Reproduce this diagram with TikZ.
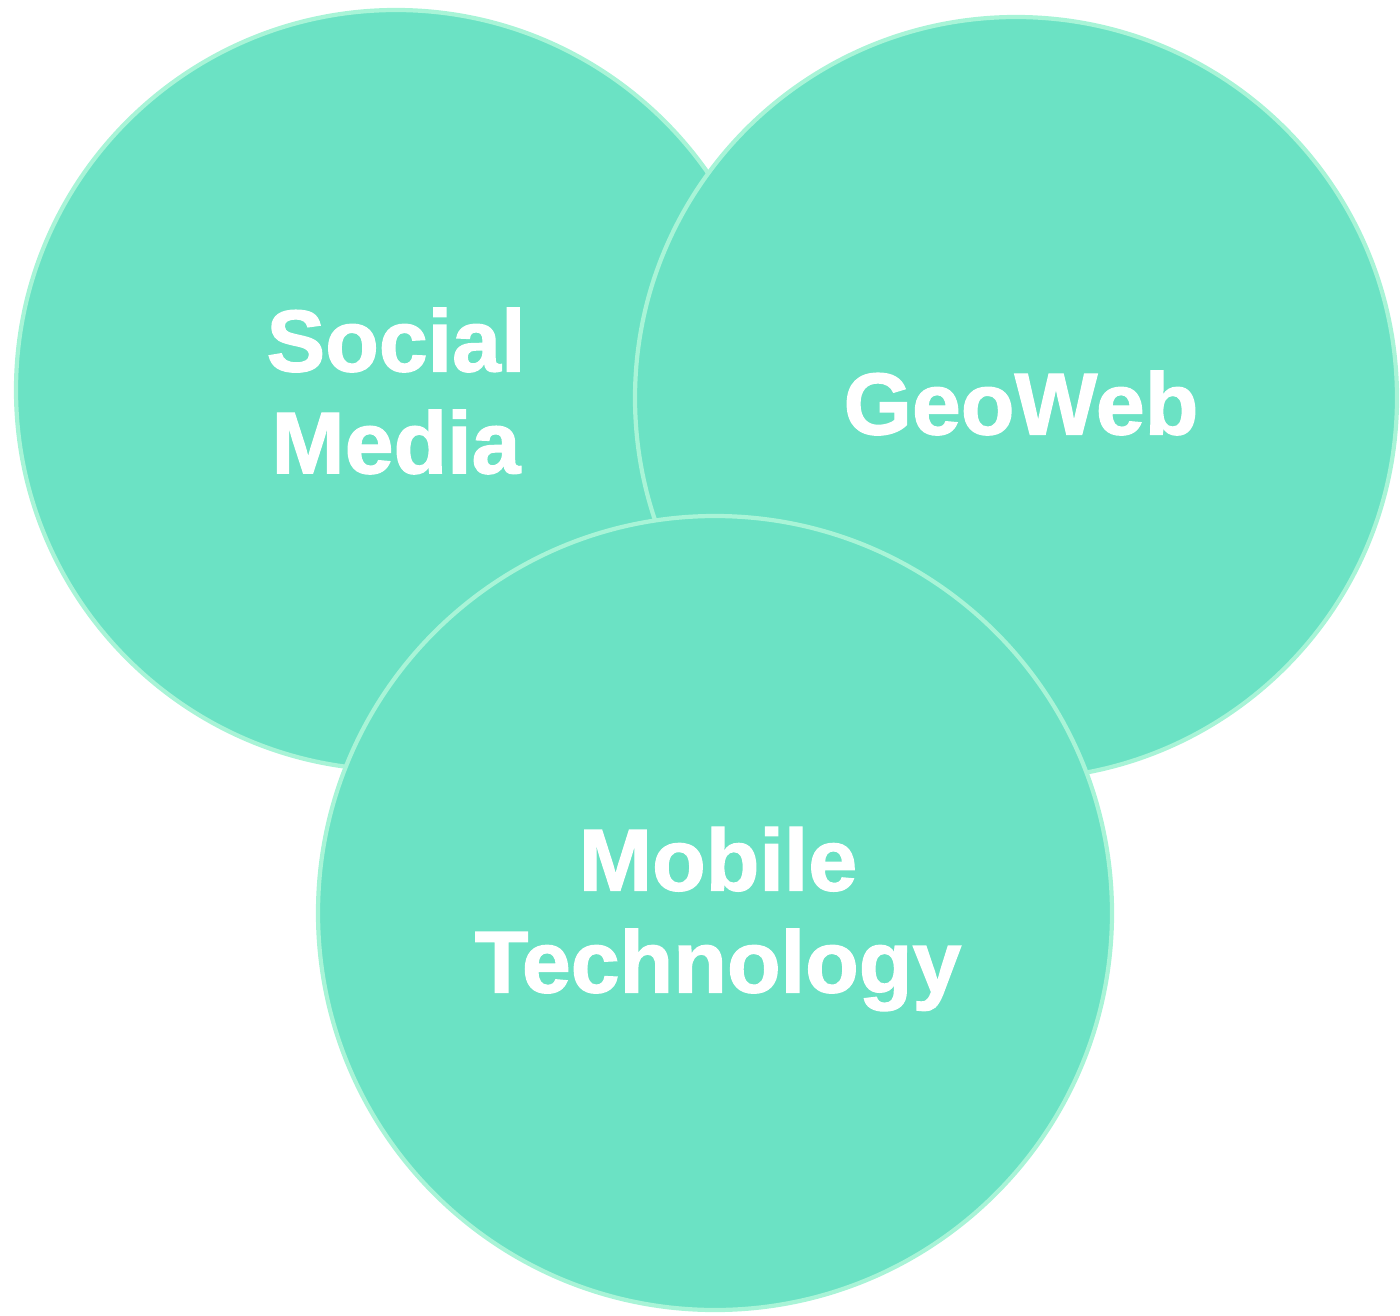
\documentclass[tikz,border=0pt]{standalone}
\usepackage{fontspec}
\setmainfont{Liberation Sans}
\newfontfamily\heavyfont[FakeBold=1.4]{Liberation Sans Bold}
\usepackage{tikz}
\definecolor{mint}{HTML}{6BE2C4}
\definecolor{mintedge}{HTML}{A8F4D7}
\tikzset{
    bubble/.style={fill=mint,draw=mintedge,line width=1.2pt},
    bubbletext/.style={text=white,font=\fontsize{25}{29}\heavyfont,align=center,inner sep=0pt}
}
\begin{document}
\begin{tikzpicture}
    \useasboundingbox (0,0) rectangle (14,13.15);
    \filldraw[bubble] (3.96,9.25) circle (3.80cm);
    \filldraw[bubble] (10.16,9.17) circle (3.81cm);
    \filldraw[bubble] (7.15,4.02) circle (3.97cm);
    \node[bubbletext] (social) at (3.96,9.24) {Social\\Media};
    \node[bubbletext] (geoweb) at (10.21,9.12) {GeoWeb};
    \node[bubbletext] (mobile) at (7.18,3.96) {Mobile\\Technology};
\end{tikzpicture}
\end{document}
